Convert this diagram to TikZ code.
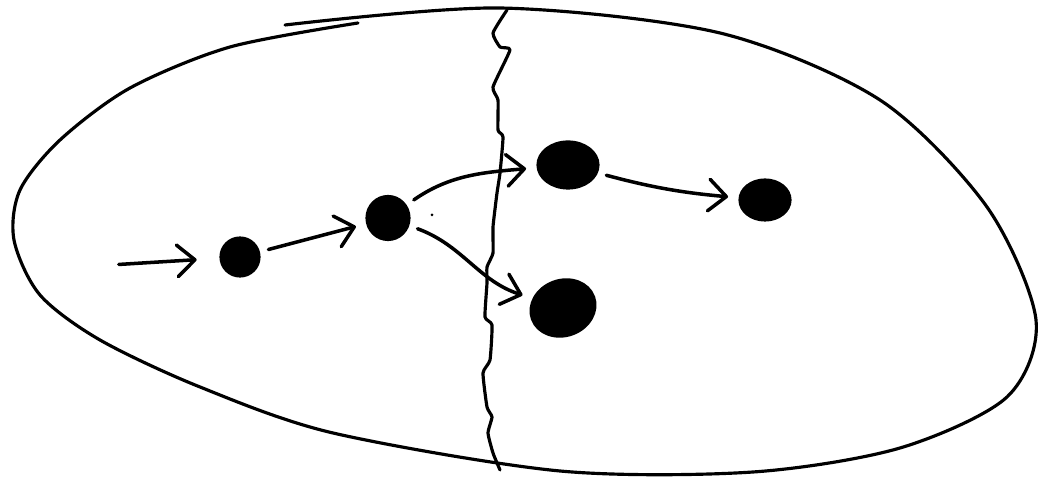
\documentclass[tikz,border=0pt]{standalone}
\usetikzlibrary{arrows.meta,shapes.geometric}

\begin{document}
\begin{tikzpicture}[
    blob/.style={draw, ellipse, fill=black, line width=1.8pt, inner sep=0pt},
    arr/.style={-{Straight Barb[length=10pt,width=18pt,round]}, line width=2pt, line cap=round, shorten >=6pt, shorten <=5pt},
    rim/.style={line width=1.8pt, line cap=round, line join=round}
]
\useasboundingbox (0,0) rectangle (20.8,9.62);

% outline of the region
\draw[rim] plot[smooth] coordinates {(5.70,9.12) (10.00,9.46) (14.40,8.96) (17.60,7.62)
    (19.74,5.48) (20.72,3.22) (20.14,1.68) (18.00,0.66) (15.06,0.18) (11.20,0.20)
    (6.66,0.96) (4.00,1.88) (2.00,2.82) (0.80,3.72) (0.28,4.82) (0.40,5.82) (1.20,6.82)
    (2.60,7.86) (4.60,8.68) (7.16,9.16)};

% border between the two parts
\draw[rim] plot[smooth, tension=0.3] coordinates {(10.14,9.42) (9.86,8.96) (10.00,8.68) (10.20,8.62)
    (9.86,7.88) (9.96,7.62) (9.96,7.02) (10.06,6.88) (10.00,6.16) (9.94,5.76) (9.86,5.08)
    (9.86,4.56) (9.74,4.28) (9.74,3.96) (9.70,3.28) (9.84,3.12) (9.80,2.42) (9.66,2.16)
    (9.74,1.48) (9.84,1.28) (9.76,0.96) (9.86,0.56) (10.00,0.22)};

\node[blob, minimum width=0.76cm, minimum height=0.76cm] (a) at (4.80,4.48) {};
\node[blob, minimum width=0.84cm, minimum height=0.86cm] (b) at (7.76,5.26) {};
\node[blob, minimum width=1.20cm, minimum height=0.92cm] (c) at (11.36,6.32) {};
\node[blob, minimum width=1.30cm, minimum height=1.10cm, rotate=20] (d) at (11.26,3.46) {};
\node[blob, minimum width=1.00cm, minimum height=0.80cm] (e) at (15.30,5.62) {};
\coordinate (src) at (2.20,4.32);

\draw[arr, shorten >=13pt] (src) -- (a);
\draw[arr] (a) -- (b);
\draw[arr] (b) to[out=35,in=185] (c);
\draw[arr] (b) to[out=-20,in=155] (d);
\draw[arr] (c) to[out=-15,in=175] (e);
\fill (8.64,5.32) circle (0.03);
\end{tikzpicture}
\end{document}
